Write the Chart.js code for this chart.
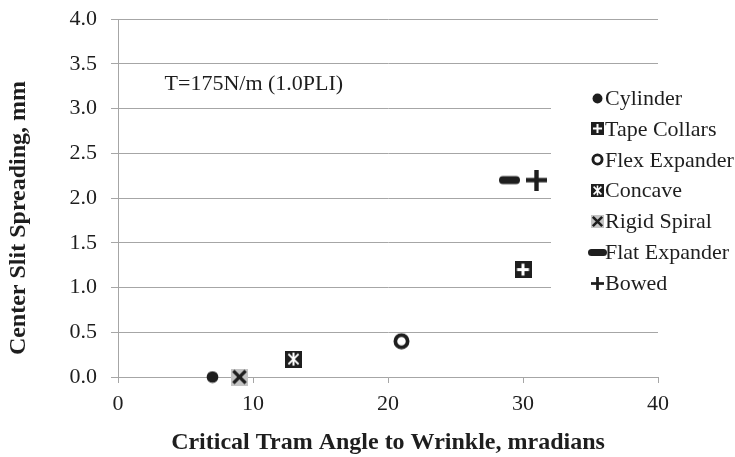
<!DOCTYPE html>
<html>
<head>
<meta charset="utf-8">
<script src="https://cdn.jsdelivr.net/npm/chart.js@4.4.1/dist/chart.umd.min.js"></script>
<style>
	html, body { margin: 0; padding: 0; background: #fff; }
	#wrap { width: 735px; height: 457px; }
</style>
</head>
<body>
<div id="wrap"><canvas id="myChart" width="735" height="457"></canvas></div>
<script>
const seriesNames = ['Cylinder', 'Tape Collars', 'Flex Expander', 'Concave', 'Rigid Spiral', 'Flat Expander', 'Bowed'];
const markerKinds = ['dot', 'boxPlus', 'ring', 'boxStar', 'grayX', 'bar', 'plus'];
const tramAngles = [7, 30, 21, 13, 9, 29, 31];
const slitSpreading = [0.0, 1.2, 0.4, 0.2, 0.0, 2.2, 2.2];
const xTicks = [0, 10, 20, 30, 40];
const yTicks = [0.0, 0.5, 1.0, 1.5, 2.0, 2.5, 3.0, 3.5, 4.0];
const noteText = 'T=175N/m (1.0PLI)';
const xTitle = 'Critical Tram Angle to Wrinkle, mradians';
const yTitle = 'Center Slit Spreading, mm';

const INK = '#1e1e1e';
const GRID = '#a6a6a6';
const SERIF = "'Liberation Serif', 'Times New Roman', serif";

// small canvases used as point styles (s = nominal size in px)
function makeMarker(kind, s) {
	const w = kind === 'bar' ? Math.round(s * 1.25) : s;
	const h = s;
	const c = document.createElement('canvas');
	c.width = w;
	c.height = h;
	const g = c.getContext('2d');
	const m = s / 2;
	g.fillStyle = INK;
	g.strokeStyle = INK;
	if (kind === 'dot') {
		g.beginPath();
		g.arc(m, m, s * 0.45, 0, Math.PI * 2);
		g.fill();
	} else if (kind === 'boxPlus') {
		g.fillRect(0, 0, s, s);
		g.fillStyle = '#fff';
		const a = Math.max(2, Math.round(s * 0.18));
		g.fillRect(m - a / 2, s * 0.15, a, s * 0.7);
		g.fillRect(s * 0.15, m - a / 2, s * 0.7, a);
	} else if (kind === 'ring') {
		const lw = s * 0.22;
		g.lineWidth = lw;
		g.beginPath();
		g.arc(m, m, m - lw / 2 - 0.5, 0, Math.PI * 2);
		g.stroke();
	} else if (kind === 'boxStar') {
		g.fillRect(0, 0, s, s);
		g.strokeStyle = '#fff';
		g.lineWidth = Math.max(1.5, s * 0.12);
		g.beginPath();
		g.moveTo(m, s * 0.12); g.lineTo(m, s * 0.88);
		g.moveTo(s * 0.2, s * 0.2); g.lineTo(s * 0.8, s * 0.8);
		g.moveTo(s * 0.8, s * 0.2); g.lineTo(s * 0.2, s * 0.8);
		g.stroke();
	} else if (kind === 'grayX') {
		g.fillStyle = '#c4c4c4';
		g.fillRect(0, 0, s, s);
		g.strokeStyle = INK;
		g.lineWidth = s * 0.2;
		g.beginPath();
		g.moveTo(s * 0.14, s * 0.14); g.lineTo(s * 0.86, s * 0.86);
		g.moveTo(s * 0.86, s * 0.14); g.lineTo(s * 0.14, s * 0.86);
		g.stroke();
	} else if (kind === 'bar') {
		const bh = s * 0.47;
		const y0 = (h - bh) / 2;
		const r = bh / 2;
		g.beginPath();
		g.moveTo(r, y0);
		g.lineTo(w - r, y0);
		g.arc(w - r, y0 + r, r, -Math.PI / 2, Math.PI / 2);
		g.lineTo(r, y0 + bh);
		g.arc(r, y0 + r, r, Math.PI / 2, Math.PI * 1.5);
		g.fill();
	} else if (kind === 'plus') {
		const a = s * 0.21;
		g.fillRect(m - a / 2, 0, a, s);
		g.fillRect(0, m - a / 2, s, a);
	}
	return c;
}

const plotSizes = { dot: 13, boxPlus: 17, ring: 17, boxStar: 17, grayX: 17, bar: 17, plus: 21 };
const legendSizes = { dot: 11, boxPlus: 13, ring: 13, boxStar: 13, grayX: 13, bar: 15, plus: 13 };

const legendMarks = markerKinds.map(k => makeMarker(k, legendSizes[k]));

const datasets = seriesNames.map((name, i) => ({
	label: name,
	data: [{ x: tramAngles[i], y: slitSpreading[i] }],
	pointStyle: makeMarker(markerKinds[i], plotSizes[markerKinds[i]]),
	showLine: false,
	clip: false
}));

// legend box sitting inside the plot, plus note text and vertical title
const overlay = {
	id: 'overlay',
	afterDatasetsDraw(chart) {
		const ctx = chart.ctx;
		const xs = chart.scales.x;
		const ys = chart.scales.y;
		ctx.save();
		ctx.fillStyle = '#fff';
		ctx.fillRect(551, 80, 184, 244);
		ctx.font = '22px ' + SERIF;
		ctx.fillStyle = INK;
		ctx.textBaseline = 'middle';
		ctx.textAlign = 'left';
		seriesNames.forEach((name, i) => {
			const y = 98 + i * 30.9;
			const img = legendMarks[i];
			ctx.drawImage(img, Math.round(597 - img.width / 2), Math.round(y - img.height / 2));
			ctx.fillText(name, 605, y + 1);
		});
		ctx.fillText(noteText, xs.getPixelForValue(3.45), ys.getPixelForValue(3.27));
		ctx.translate(19, 218);
		ctx.rotate(-Math.PI / 2);
		ctx.textAlign = 'center';
		ctx.font = 'bold 24px ' + SERIF;
		ctx.fillText(yTitle, 0, 0);
		ctx.restore();
	}
};

const ctx = document.getElementById('myChart');
const myChart = new Chart(ctx, {
	type: 'scatter',
	data: { datasets },
	plugins: [overlay],
	options: {
		responsive: false,
		animation: false,
		events: [],
		layout: { padding: { left: 0, top: 19, right: 77, bottom: 0 } },
		plugins: {
			legend: { display: false },
			tooltip: { enabled: false }
		},
		scales: {
			x: {
				type: 'linear',
				min: 0,
				max: 40,
				afterFit: (scale) => {
					scale.height = 80;
					scale.paddingLeft = 0;
					scale.paddingRight = 0;
				},
				afterBuildTicks: (scale) => { scale.ticks = xTicks.map(v => ({ value: v })); },
				ticks: {
					color: INK,
					font: { family: SERIF, size: 22 },
					padding: 8,
					maxRotation: 0
				},
				grid: { drawOnChartArea: false, drawTicks: true, tickLength: 6, color: GRID },
				border: { color: GRID, width: 1 },
				title: {
					display: true,
					text: xTitle,
					color: INK,
					font: { family: SERIF, size: 24, weight: 'bold' },
					padding: { top: 0, bottom: 0 }
				}
			},
			y: {
				type: 'linear',
				min: 0,
				max: 4,
				afterFit: (scale) => {
					scale.width = 118;
					scale.paddingTop = 0;
					scale.paddingBottom = 0;
				},
				afterBuildTicks: (scale) => { scale.ticks = yTicks.map(v => ({ value: v })); },
				ticks: {
					color: INK,
					font: { family: SERIF, size: 22 },
					padding: 14,
					callback: (v) => Number(v).toFixed(1)
				},
				grid: { color: GRID, tickLength: 7, lineWidth: 1 },
				border: { color: GRID, width: 1 }
			}
		}
	}
});
</script>
</body>
</html>
